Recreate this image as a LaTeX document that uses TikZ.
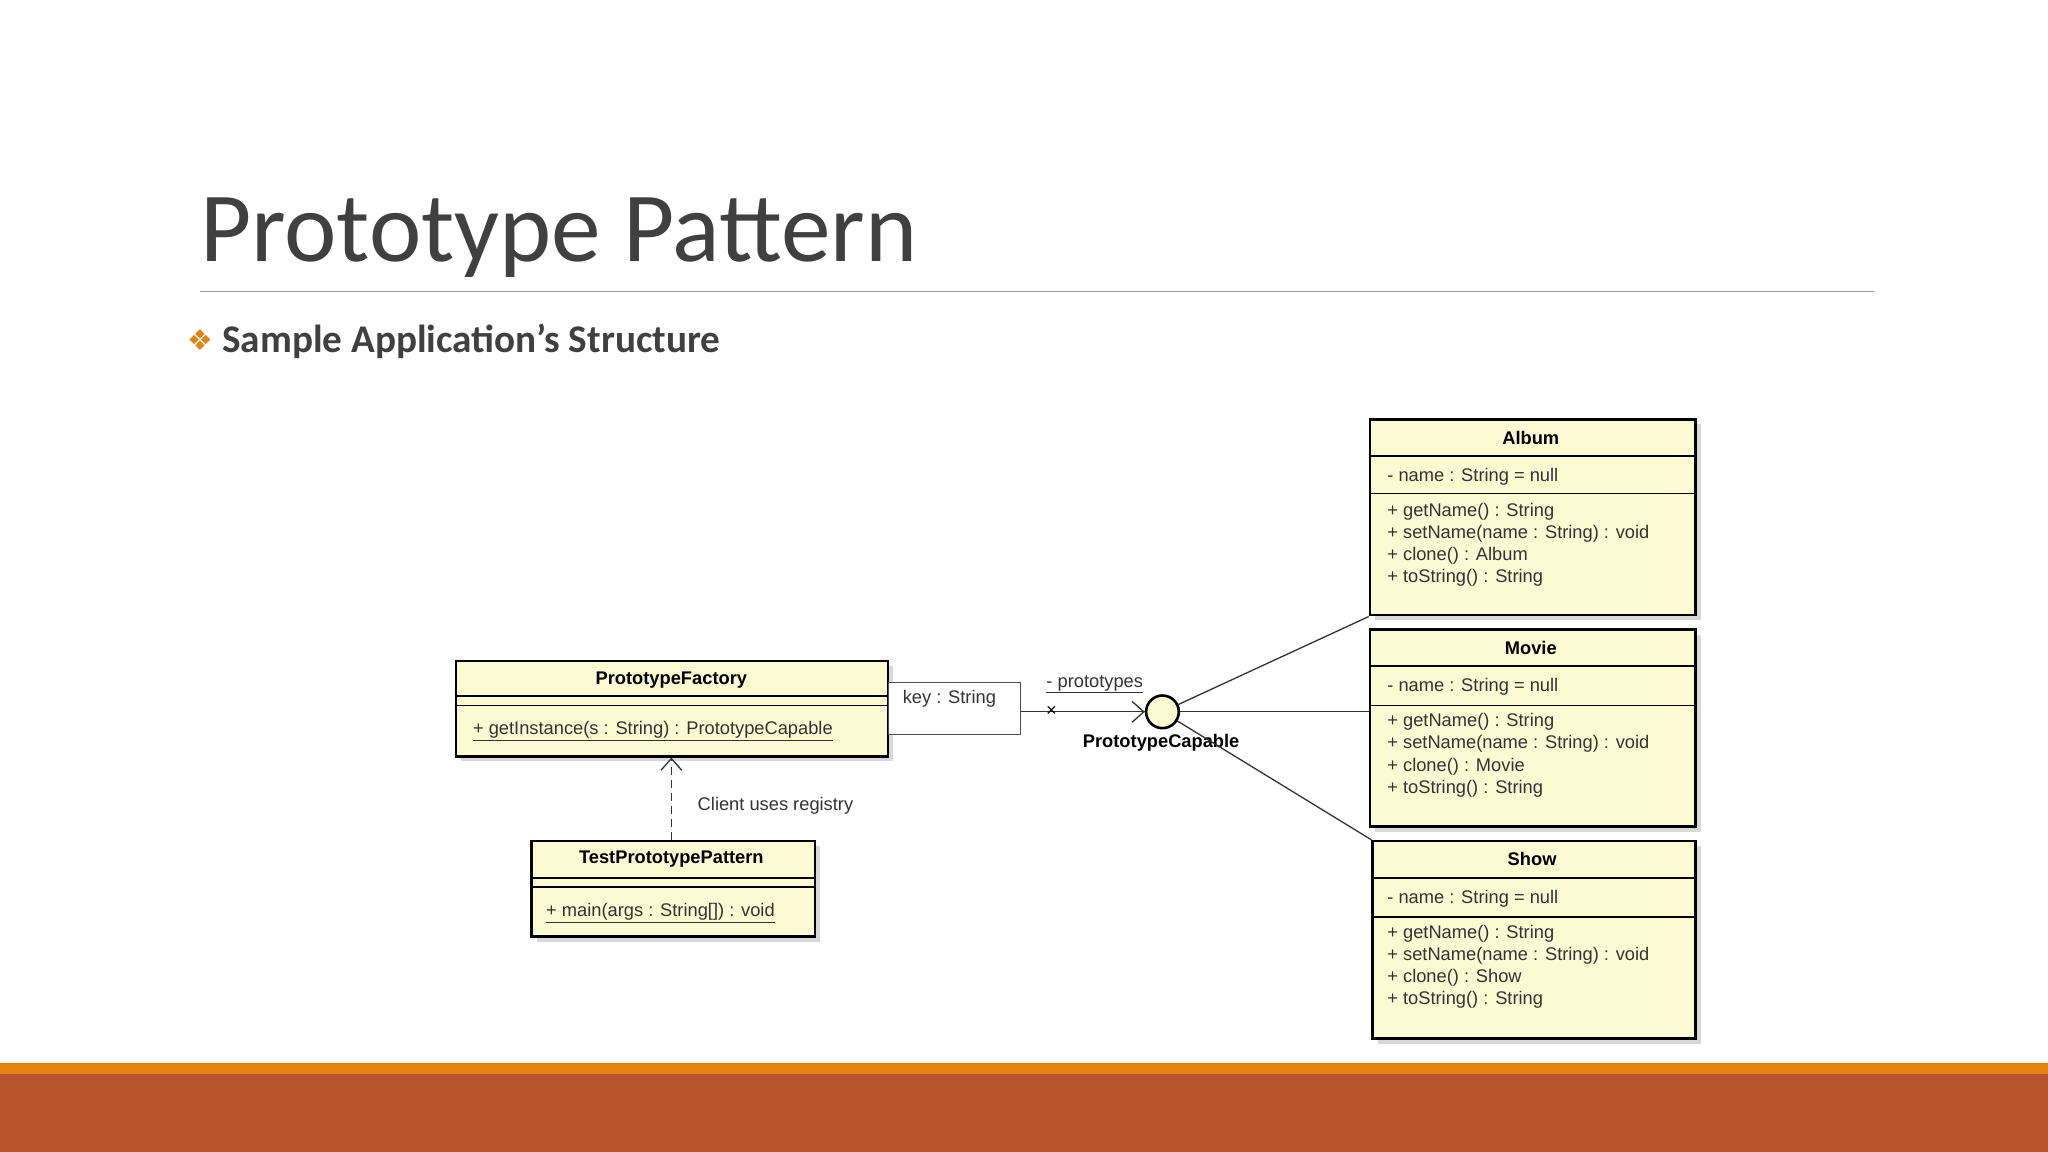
\documentclass[tikz,border=0pt]{standalone}
\usepackage{fontspec}
\setmainfont{Carlito}
\newfontfamily\umlfont{Liberation Sans}
\newfontfamily\symfont{DejaVu Sans}
\usetikzlibrary{arrows.meta,shadows}
\definecolor{titlegray}{HTML}{404040}
\definecolor{classfill}{HTML}{FCFAD2}
\definecolor{barorange}{HTML}{E48312}
\definecolor{barred}{HTML}{B7562D}
\tikzset{
  cls/.style={draw=black,line width=2pt,fill=classfill,anchor=north west,inner sep=0pt,
    drop shadow={shadow xshift=4pt,shadow yshift=-4pt,fill=black!25,opacity=.6}},
  sep/.style={line width=1.2pt},
  ctitle/.style={font=\umlfont\bfseries\fontsize{14}{16}\selectfont,anchor=center},
  member/.style={font=\umlfont\fontsize{14}{17}\selectfont,anchor=west,text=black!80,align=left,inner sep=0pt},
  conn/.style={line width=1pt,black!80},
}
\begin{document}
\begin{tikzpicture}[x=1pt,y=-1pt]
\useasboundingbox (0,0) rectangle (1568,882);
\fill[white] (0,0) rectangle (1568,882);
% title
\node[anchor=base west,inner sep=0pt,text=titlegray,font=\fontsize{76}{80}\selectfont] (title) at (153,200) {Prototype Pattern};
\draw[black!40,line width=1pt] (153,223) -- (1435,223);
\node[anchor=base west,inner sep=0pt,text=barorange,font=\symfont\fontsize{22}{24}\selectfont] (bul) at (143,268) {❖};
\node[anchor=base west,inner sep=0pt,text=titlegray,font=\bfseries\fontsize{30}{32}\selectfont] (sub) at (170,270) {Sample Application’s Structure};
% bars
\fill[barorange] (0,814) rectangle (1568,823);
\fill[barred] (0,822) rectangle (1568,882);

% PrototypeFactory
\node[cls,minimum width=331pt,minimum height=73pt] (pf) at (348,505) {};
\draw[sep] (348,533) -- (679,533); \draw[sep] (348,540) -- (679,540);
\node[ctitle] at (514,521) {PrototypeFactory};
\node[member] at (362,560) {\underline{+ getInstance(s : String) : PrototypeCapable}};
% key box
\node[draw=black!70,line width=1pt,fill=white,minimum width=101pt,minimum height=40pt,anchor=north west,inner sep=0pt] (key) at (680,522) {};
\node[member,anchor=north west] at (691,528) {key : String};
% interface
\node[circle,draw=black,line width=2pt,fill=classfill,minimum size=25pt,inner sep=0pt] (pc) at (890,545) {};
\node[ctitle] at (889,569) {PrototypeCapable};
\draw[conn] (key.east |- pc) -- (pc.west) node[pos=1,anchor=east,inner sep=0pt] {};
\draw[conn,-{Straight Barb[length=9pt,width=16pt,line width=1pt]}] (key.east |- pc) -- (pc.west);
\node[font=\umlfont\fontsize{14}{14}\selectfont] at (805,545) {×};
\node[member] at (801,524) {\underline{- prototypes}};

% Album
\node[cls,minimum width=249pt,minimum height=150pt] (album) at (1048,320) {};
\draw[sep] (1048,349) -- (1297,349); \draw[sep] (1048,378) -- (1297,378);
\node[ctitle] at (1172,335) {Album};
\node[member] at (1062,365) {- name : String = null};
\node[member,anchor=north west] at (1062,385) {+ getName() : String\\+ setName(name : String) : void\\+ clone() : Album\\+ toString() : String};
% Movie
\node[cls,minimum width=249pt,minimum height=151pt] (movie) at (1048,481) {};
\draw[sep] (1048,510) -- (1297,510); \draw[sep] (1048,540) -- (1297,540);
\node[ctitle] at (1172,496) {Movie};
\node[member] at (1062,526) {- name : String = null};
\node[member,anchor=north west] at (1062,546) {+ getName() : String\\+ setName(name : String) : void\\+ clone() : Movie\\+ toString() : String};
% Show
\node[cls,minimum width=247pt,minimum height=151pt] (show) at (1050,643) {};
\draw[sep] (1050,672) -- (1297,672); \draw[sep] (1050,702) -- (1297,702);
\node[ctitle] at (1173,658) {Show};
\node[member] at (1062,688) {- name : String = null};
\node[member,anchor=north west] at (1062,708) {+ getName() : String\\+ setName(name : String) : void\\+ clone() : Show\\+ toString() : String};
% realization lines
\draw[conn] (pc) -- (album.south west);
\draw[conn] (pc.east) -- (movie.west |- pc.east);
\draw[conn] (pc) -- (show.north west);

% TestPrototypePattern
\node[cls,minimum width=217pt,minimum height=73pt] (tp) at (406,643) {};
\draw[sep] (406,672) -- (623,672); \draw[sep] (406,679) -- (623,679);
\node[ctitle] at (514,658) {TestPrototypePattern};
\node[member] at (418,699) {\underline{+ main(args : String[]) : void}};
\draw[conn,dashed,dash pattern=on 6pt off 4pt,-{Straight Barb[length=9pt,width=16pt,line width=1pt]}] (tp.north -| 514,0) -- (pf.south -| 514,0);
\node[member] (lbl) at (534,617) {Client uses registry};
\end{tikzpicture}
\end{document}
